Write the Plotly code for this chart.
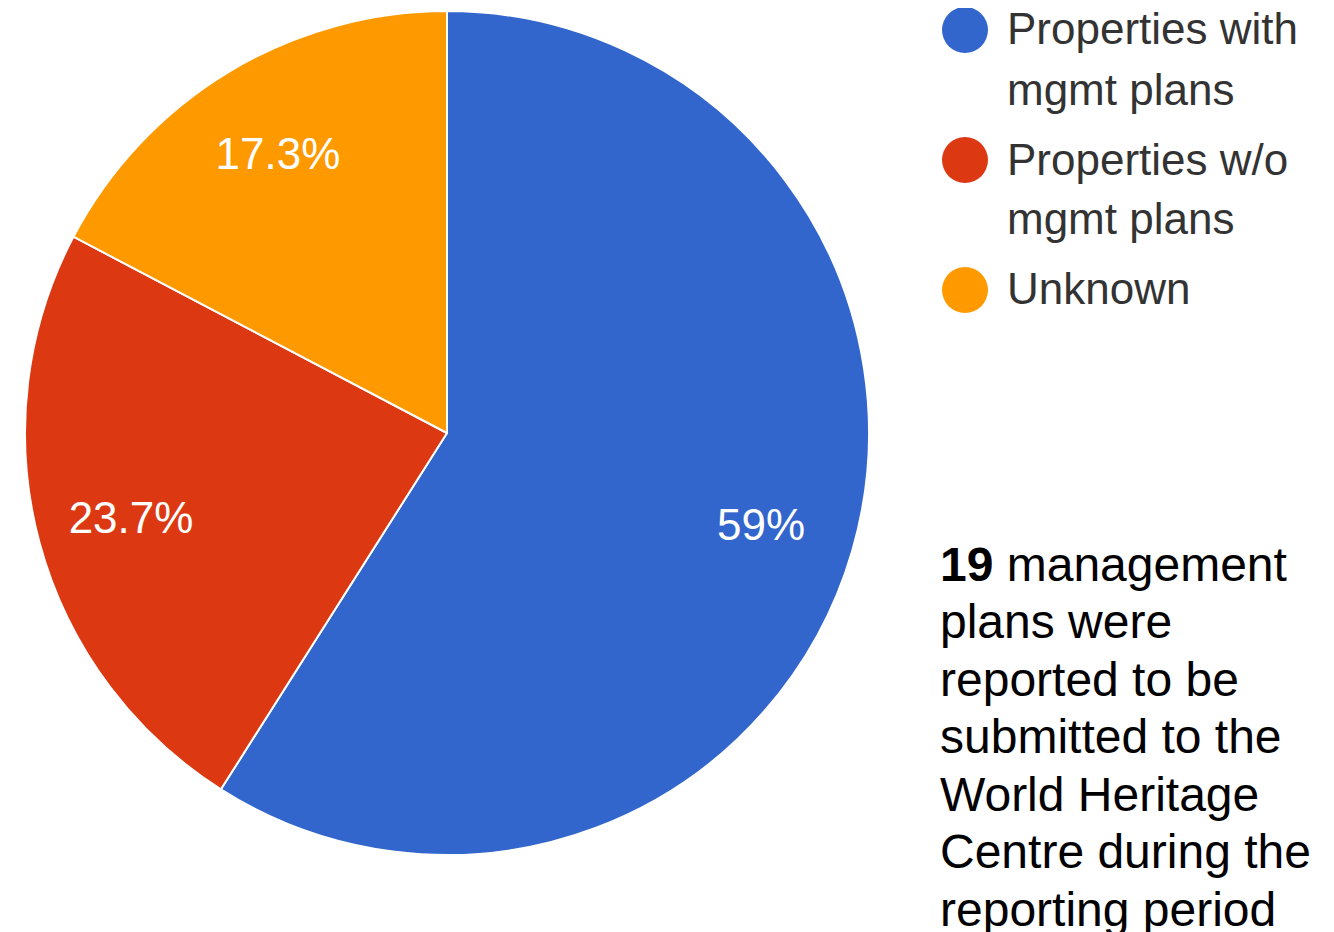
import plotly.graph_objects as go

# Data
categories = ["Properties with mgmt plans", "Properties w/o mgmt plans", "Unknown"]
legend_lines = [["Properties with", "mgmt plans"], ["Properties w/o", "mgmt plans"], ["Unknown"]]
shares = [59.0, 23.7, 17.3]
colors = ["#3366cc", "#dc3912", "#ff9900"]
note_lines = ["<b>19</b> management", "plans were", "reported to be", "submitted to the",
              "World Heritage", "Centre during the", "reporting period"]

W, H = 1334, 932
OFF = 8  # page body margin offset
FONT = "Liberation Sans, Arial, sans-serif"


def px(x):
    return (x - OFF) / W


def py(y):
    return 1 - (y - OFF) / H


dom = dict(x=[px(25), px(869)], y=[py(855), py(11)])

fig = go.Figure()
# visual pie
fig.add_trace(go.Pie(
    labels=categories,
    values=shares,
    sort=False,
    direction="clockwise",
    rotation=0,
    marker=dict(colors=colors, line=dict(color="white", width=2)),
    textinfo="none",
    showlegend=False,
    hoverinfo="label+percent",
    domain=dom,
))
# label ring (transparent) so percentages sit out toward the rim
fig.add_trace(go.Pie(
    labels=categories,
    values=shares,
    sort=False,
    direction="clockwise",
    rotation=0,
    hole=0.55,
    marker=dict(colors=["rgba(0,0,0,0)"] * 3, line=dict(width=0)),
    texttemplate="%{value}%",
    textposition="inside",
    insidetextorientation="horizontal",
    textfont=dict(color="white", size=44, family=FONT),
    showlegend=False,
    hoverinfo="skip",
    domain=dom,
))

shapes = []
annotations = []
# custom legend (circle markers)
row_y = [30, 160, 290]
for lines, col, y0 in zip(legend_lines, colors, row_y):
    shapes.append(dict(type="circle", xref="paper", yref="paper",
                       x0=px(942), x1=px(988), y0=py(y0 + 23), y1=py(y0 - 23),
                       fillcolor=col, line=dict(width=0)))
    for i, t in enumerate(lines):
        annotations.append(dict(text=t, xref="paper", yref="paper", x=px(1005),
                                y=py(y0 - 1 + i * 60), xanchor="left", yanchor="middle",
                                showarrow=False, font=dict(size=44, color="#333333", family=FONT)))

for i, t in enumerate(note_lines):
    annotations.append(dict(text=t, xref="paper", yref="paper", x=px(938),
                            y=py(564 + i * 57.5), xanchor="left", yanchor="middle",
                            showarrow=False, font=dict(size=48, color="#000000", family=FONT)))

fig.update_layout(
    width=W, height=H,
    margin=dict(l=0, r=0, t=0, b=0),
    paper_bgcolor="white", plot_bgcolor="white",
    shapes=shapes, annotations=annotations,
)

fig.write_html("out.html")
